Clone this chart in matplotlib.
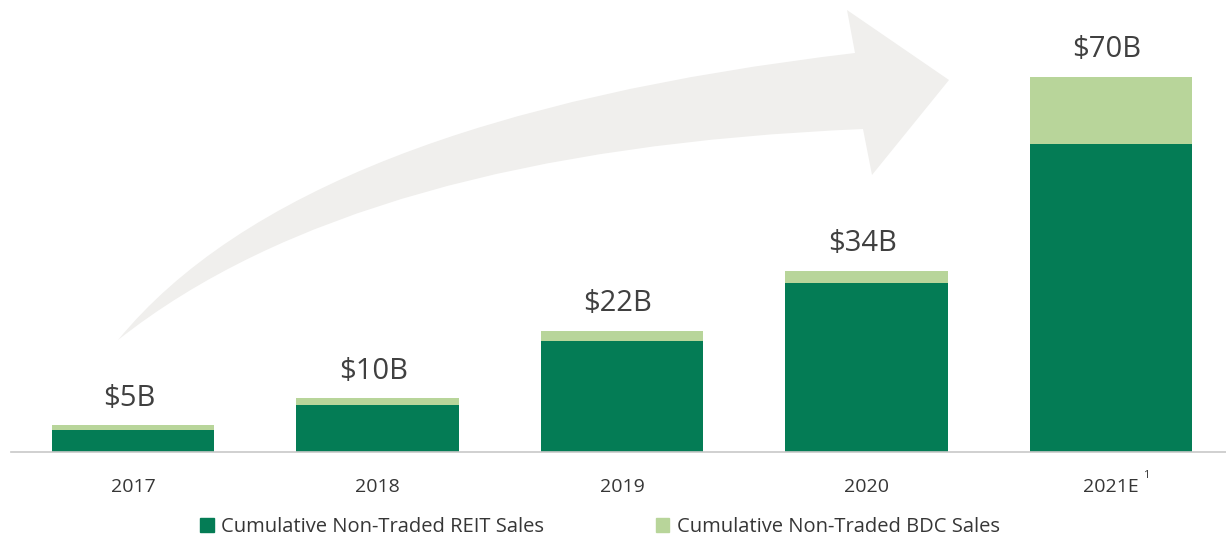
import numpy as np
import matplotlib
matplotlib.use("Agg")
from matplotlib import pyplot as plt
from matplotlib.path import Path
from matplotlib.patches import PathPatch, Patch

plt.rcParams['font.family'] = ['Open Sans', 'DejaVu Sans']

# data ($B, cumulative)
years = ["2017", "2018", "2019", "2020", "2021E"]
reit_sales = [4.1, 8.8, 20.7, 31.6, 57.5]
bdc_sales = [0.9, 1.2, 1.9, 2.2, 12.5]
total_labels = ["$5B", "$10B", "$22B", "$34B", "$70B"]

dark_green = "#047C55"
light_green = "#B8D59A"
text_col = "#404040"

fig = plt.figure(figsize=(12.26, 5.42), dpi=100)

# background arrow, drawn in pixel coords on an overlay axes
bg = fig.add_axes([0, 0, 1, 1], zorder=0)
bg.set_xlim(0, 1226)
bg.set_ylim(542, 0)
bg.axis('off')
verts = [
    (118, 340), (300, 118), (855, 53),   # upper edge of shaft
    (847, 10), (949, 80), (872, 175),    # head
    (863, 129), (358, 150), (118, 340),  # lower edge of shaft
]
codes = [Path.MOVETO, Path.CURVE3, Path.CURVE3,
         Path.LINETO, Path.LINETO, Path.LINETO,
         Path.LINETO, Path.CURVE3, Path.CURVE3]
bg.add_patch(PathPatch(Path(verts, codes), facecolor="#F0EFED", edgecolor="none"))

ax = fig.add_axes([11 / 1226, 90 / 542, 1215 / 1226, 442 / 542], zorder=1)
ax.patch.set_alpha(0)

x = np.arange(len(years))
w = 0.665
ax.bar(x, reit_sales, w, color=dark_green, label="Cumulative Non-Traded REIT Sales")
ax.bar(x, bdc_sales, w, bottom=reit_sales, color=light_green,
       label="Cumulative Non-Traded BDC Sales")

totals = np.array(reit_sales) + np.array(bdc_sales)
for xi, t, lab in zip(x, totals, total_labels):
    ax.annotate(lab, (xi, t), xytext=(-3, 9), textcoords="offset points",
                ha="center", va="bottom", fontsize=21, color=text_col)

ax.set_xlim(-0.499, 4.470)
ax.set_ylim(0, 82.46)
ax.set_xticks(x)
ax.set_xticklabels(years, fontsize=14, color="#363636")
ax.tick_params(axis='x', length=0, pad=19)
ax.set_yticks([])
for s in ["top", "right", "left"]:
    ax.spines[s].set_visible(False)
ax.spines["bottom"].set_color("#C8C8C8")
ax.spines["bottom"].set_linewidth(1.2)

# footnote marker on 2021E
fig.text(1143 / 1226, 1 - 470 / 542, "1", fontsize=8, color="#363636", va="top", ha="left")

handles = [Patch(color=dark_green), Patch(color=light_green)]
fig.legend(handles, ["Cumulative Non-Traded REIT Sales", "Cumulative Non-Traded BDC Sales"],
           loc="center", bbox_to_anchor=(600 / 1226, 1 - 527 / 542), ncol=2, frameon=False,
           fontsize=14.5, handlelength=0.65, handleheight=0.65, handletextpad=0.35,
           columnspacing=5.6, labelcolor="#363636")

fig.savefig("out.png", dpi=100)
